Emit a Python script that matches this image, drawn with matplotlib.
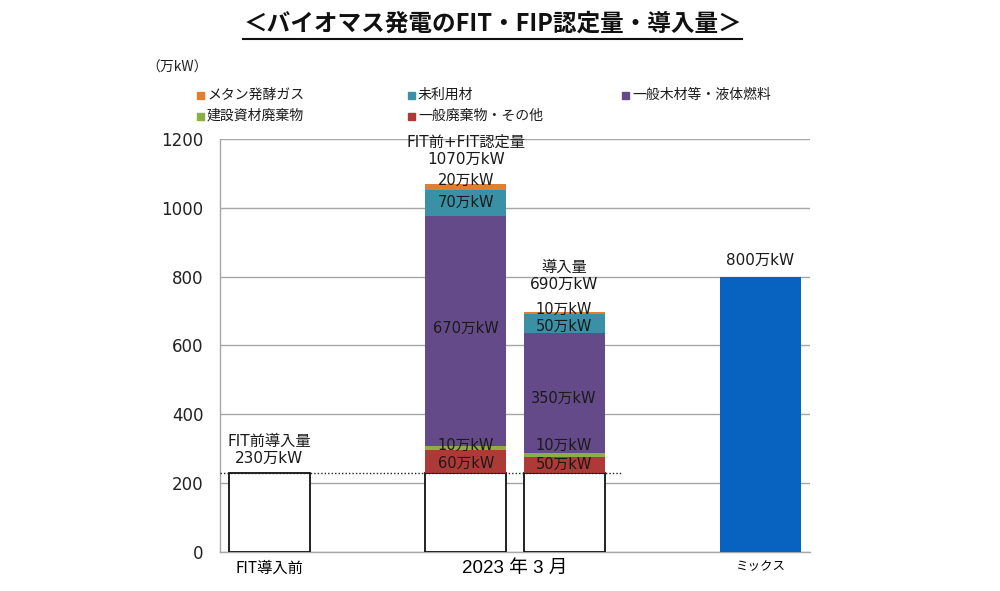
import matplotlib
matplotlib.use('Agg')
import matplotlib.pyplot as plt
from matplotlib.patches import Rectangle
from matplotlib.lines import Line2D

# ---------------- data ----------------
categories = ['FIT導入前', '2023 年 3 月', 'ミックス']
series_names = ['メタン発酵ガス', '未利用材', '一般木材等・液体燃料', '建設資材廃棄物', '一般廃棄物・その他']
# stacked order bottom -> top
stack_names = ['一般廃棄物・その他', '建設資材廃棄物', '一般木材等・液体燃料', '未利用材', 'メタン発酵ガス']
pre_fit = 230
fit_certified = [65, 12, 670, 75, 18]
installed = [47, 10, 348, 55, 6]
mix_target = 800
fit_seg_labels = ['60万kW', '10万kW', '670万kW', '70万kW', '20万kW']
inst_seg_labels = ['50万kW', '10万kW', '350万kW', '50万kW', '10万kW']
head_labels = ['FIT前導入量\n230万kW', 'FIT前+FIT認定量\n1070万kW', '導入量\n690万kW', '800万kW']
y_ticks = [0, 200, 400, 600, 800, 1000, 1200]

colors = {
    'メタン発酵ガス': '#E37D30',
    '未利用材': '#3A91A6',
    '一般木材等・液体燃料': '#654A8A',
    '建設資材廃棄物': '#8CAE48',
    '一般廃棄物・その他': '#AD3A36',
}
mix_color = '#0763BF'

JP = ['Noto Sans CJK JP', 'DejaVu Sans']
MIX = ['DejaVu Sans', 'Noto Sans CJK JP']

fig = plt.figure(figsize=(10, 5.91), dpi=100)
ax = fig.add_axes([0.22, 0.066, 0.59, 0.699])

xpos = [0, 2, 3, 5]
w = 0.825

ax.set_ylim(0, 1200)
ax.set_xlim(-0.504, 5.504)
ax.set_yticks(y_ticks)
ax.set_yticklabels([str(v) for v in y_ticks], fontsize=12, family='DejaVu Sans', color='#222222')
ax.yaxis.grid(True, color='#A6A6A6', lw=1.0, zorder=0)
ax.set_axisbelow(True)
ax.tick_params(axis='y', length=0, pad=12)
for s in ['top', 'right']:
    ax.spines[s].set_visible(False)
for s in ['left', 'bottom']:
    ax.spines[s].set_color('#A6A6A6')
    ax.spines[s].set_linewidth(1.0)

# white base bars
for x in xpos[:3]:
    ax.bar(x, pre_fit, width=w, color='white', edgecolor='#111111', linewidth=1.3, zorder=3)

# stacked segments
def stack(x, vals, labels, offs):
    bottom = pre_fit
    for name, v, lab, o in zip(stack_names, vals, labels, offs):
        ax.bar(x, v, width=w, bottom=bottom, color=colors[name], linewidth=0, zorder=3)
        ax.annotate(lab, (x, bottom + v / 2), xytext=(0, o), textcoords='offset points',
                    ha='center', va='center', fontsize=10.5, family=MIX, color='#1a1a1a', zorder=5)
        bottom += v
    return bottom

top1 = stack(xpos[1], fit_certified, fit_seg_labels, [-1.5, 2.5, 2, 0, 4.5])
top2 = stack(xpos[2], installed, inst_seg_labels, [0, 7, -3.5, -1.5, 3])

# mix bar
ax.bar(xpos[3], mix_target, width=w, color=mix_color, linewidth=0, zorder=3)

# dotted line at pre-FIT level
ax.plot([-0.504, 3.58], [pre_fit, pre_fit], ls=(0, (1, 1.5)), color='#222222', lw=1.0, zorder=4,
        clip_on=False)

# heading annotations
tops = [pre_fit, top1, top2, mix_target]
offs = [5, 12, 15, 6]
for x, t, lab, o in zip(xpos, tops, head_labels, offs):
    ax.annotate(lab, (x, t), xytext=(0, o), textcoords='offset points', ha='center', va='bottom',
                fontsize=11, family=MIX, color='#1a1a1a', linespacing=1.15, zorder=5)

# x category labels
ax.set_xticks([xpos[0], (xpos[1] + xpos[2]) / 2, xpos[3]])
ax.set_xticklabels(categories)
ax.tick_params(axis='x', length=0, pad=6)
xl = ax.get_xticklabels()
xl[0].set_fontsize(11); xl[0].set_family(JP)
xl[1].set_fontsize(13.5); xl[1].set_family(['Liberation Sans', 'Noto Sans CJK JP'])
xl[2].set_fontsize(9); xl[2].set_family(JP)

# unit label
fig.text(0.146, 1 - 68 / 591, '（万kW）', fontsize=10, family=JP, ha='left', va='center', color='#222222')

# legend (manual, row-major)
leg_items = [('メタン発酵ガス', 200, 95), ('未利用材', 411, 95), ('一般木材等・液体燃料', 625, 95),
             ('建設資材廃棄物', 200, 116), ('一般廃棄物・その他', 411, 116)]
sq = 7
for name, px, py in leg_items:
    fig.patches.append(Rectangle(((px - sq / 2) / 1000, 1 - (py + sq / 2) / 591), sq / 1000, sq / 591,
                                 transform=fig.transFigure, color=colors[name]))
    fig.text((px + 7) / 1000, 1 - py / 591, name, fontsize=10, family=JP, ha='left', va='center',
             color='#1a1a1a')

# title with underline
title = fig.text(0.4925, 1 - 24 / 591, '＜バイオマス発電のFIT・FIP認定量・導入量＞', fontsize=17,
                 fontweight='bold', family=JP, ha='center', va='center', color='#111111')
fig.canvas.draw()
bb = title.get_window_extent(renderer=fig.canvas.get_renderer())
fig.add_artist(Line2D([bb.x0 / 1000, bb.x1 / 1000], [1 - 38.5 / 591, 1 - 38.5 / 591],
                      transform=fig.transFigure, color='#111111', lw=1.5))

fig.savefig('out.png', dpi=100)
